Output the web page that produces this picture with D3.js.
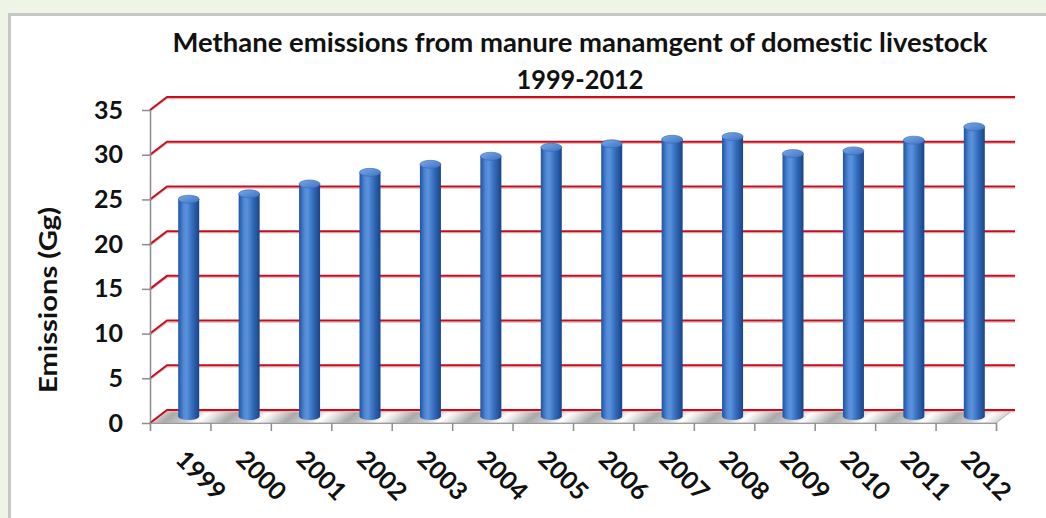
<!DOCTYPE html>
<html><head><meta charset="utf-8">
<script src="https://cdn.jsdelivr.net/npm/d3@7"></script>
<style>
html,body{margin:0;padding:0;background:#eef5e6;}
svg{display:block;}
text{font-family:Lato,"Open Sans",sans-serif;font-weight:700;fill:#111;font-variant-ligatures:none;font-feature-settings:"liga" 0;}
</style></head>
<body><svg id="c" width="1046" height="518"></svg>
<script>
const years = ["1999","2000","2001","2002","2003","2004","2005","2006","2007","2008","2009","2010","2011","2012"];
const emissions = [24.3, 24.9, 26.0, 27.3, 28.2, 29.1, 30.1, 30.5, 31.0, 31.3, 29.4, 29.7, 30.9, 32.4];
const yTicks = [0, 5, 10, 15, 20, 25, 30, 35];
const titleLines = ["Methane emissions from manure manamgent of domestic livestock", "1999-2012"];
const yLabel = "Emissions (Gg)";

const svg = d3.select("#c");
const DX = 17, DY = -13;

// panel
svg.append("rect").attr("x", 9.5).attr("y", 14.5).attr("width", 1100).attr("height", 600)
  .attr("fill", "#fff").attr("stroke", "#c6c6c6").attr("stroke-width", 3);

const x = d3.scaleBand().domain(years).range([150, 996]).padding(0);
const bw = x.bandwidth();
const y = d3.scaleLinear().domain([0, 35]).range([423, 110]);
const xb = d3.scaleLinear().domain([0, years.length]).range([150, 996]);

const defs = svg.append("defs");
const fg = defs.append("linearGradient").attr("id", "floorG")
  .attr("gradientUnits", "userSpaceOnUse").attr("spreadMethod", "repeat")
  .attr("x1", 150 + bw * 0.55).attr("y1", 423).attr("x2", 150 + bw * 1.55).attr("y2", 423)
  .attr("gradientTransform", "skewX(-50)");
[["0%","#a9a9a9"],["35%","#cfcfcf"],["55%","#ffffff"],["70%","#e6e6e6"],["100%","#a9a9a9"]]
  .forEach(s => fg.append("stop").attr("offset", s[0]).attr("stop-color", s[1]));

const bg = defs.append("linearGradient").attr("id", "barG").attr("x1", "0").attr("x2", "1").attr("y1", "0").attr("y2", "0");
[["0%","#21529f"],["25%","#4f88d6"],["40%","#5a92dc"],["70%","#3068b8"],["100%","#1a4386"]]
  .forEach(s => bg.append("stop").attr("offset", s[0]).attr("stop-color", s[1]));
const tg = defs.append("linearGradient").attr("id", "topG").attr("x1", "0").attr("x2", "1").attr("y1", "0").attr("y2", "1");
[["0%","#7aa8e6"],["100%","#3d74c4"]]
  .forEach(s => tg.append("stop").attr("offset", s[0]).attr("stop-color", s[1]));

// floor
const y0 = y(0);
svg.append("path")
  .attr("d", `M${xb(0)},${y0}L${xb(years.length)},${y0}L${xb(years.length)+DX},${y0+DY}L${xb(0)+DX},${y0+DY}Z`)
  .attr("fill", "url(#floorG)").attr("stroke", "#b0b0b0").attr("stroke-width", 1);

// gridlines (side wall diagonal + back wall)
const grid = svg.append("g");
yTicks.forEach(t => {
  const yy = y(t);
  grid.append("path")
    .attr("d", `M${xb(0)},${yy+1.6}L${xb(0)+DX},${yy+DY+1.6}L${xb(years.length)+DX+2},${yy+DY+1.6}`)
    .attr("fill", "none").attr("stroke", "#eeb5bb").attr("stroke-width", 1.2);
  grid.append("path")
    .attr("d", `M${xb(0)},${yy}L${xb(0)+DX},${yy+DY}L${xb(years.length)+DX+2},${yy+DY}`)
    .attr("fill", "none").attr("stroke", "#c0101e").attr("stroke-width", 2);
});

// y axis
const ya = svg.append("g").attr("transform", "translate(150,0)")
  .call(d3.axisLeft(y).tickValues(yTicks).tickSize(8).tickPadding(19).tickSizeOuter(0));
ya.select(".domain").attr("stroke", "#8c8c8c").attr("stroke-width", 1.5);
ya.selectAll(".tick line").attr("stroke", "#8c8c8c").attr("stroke-width", 1.5);
ya.selectAll(".tick text").style("font-family", "Lato, sans-serif").style("font-weight", "700")
  .style("font-size", "25px").attr("fill", "#111");

// x axis (front floor edge, ticks at category boundaries)
const xa = svg.append("g").attr("transform", `translate(0,${y0})`)
  .call(d3.axisBottom(xb).tickValues(d3.range(0, years.length + 1)).tickSize(8).tickFormat(""));
xa.select(".domain").attr("stroke", "#9a9a9a").attr("stroke-width", 1.2);
xa.selectAll(".tick line").attr("stroke", "#8c8c8c").attr("stroke-width", 1.5);

// bars (cylinders at mid depth)
const bars = svg.append("g").selectAll("g").data(years.map((yr, i) => ({yr, v: emissions[i]}))).join("g")
  .attr("transform", d => `translate(${x(d.yr) + bw / 2 + DX / 2},${DY / 2})`);
const R = 10.5;
bars.append("ellipse").attr("cx", 0).attr("cy", y0).attr("rx", R).attr("ry", 3.5).attr("fill", "url(#barG)");
bars.append("rect").attr("x", -R).attr("width", 2 * R).attr("y", d => y(d.v)).attr("height", d => y0 - y(d.v))
  .attr("fill", "url(#barG)");
bars.append("ellipse").attr("cx", 0).attr("cy", d => y(d.v)).attr("rx", R).attr("ry", 4)
  .attr("fill", "url(#topG)").attr("stroke", "#3567b5").attr("stroke-width", 0.6);

// x labels
svg.append("g").selectAll("text").data(years).join("text")
  .attr("transform", d => `translate(${x(d) + bw / 2 - 6},461) rotate(45)`)
  .attr("text-anchor", "start").style("font-size", "25px").text(d => d);

// title
svg.append("text").attr("x", 580).attr("y", 52).attr("text-anchor", "middle")
  .attr("textLength", 815).attr("lengthAdjust", "spacingAndGlyphs")
  .style("font-size", "27px").text(titleLines[0]);
svg.append("text").attr("x", 580).attr("y", 89).attr("text-anchor", "middle")
  .attr("textLength", 127).attr("lengthAdjust", "spacingAndGlyphs")
  .style("font-size", "27px").text(titleLines[1]);

// y label
svg.append("text").attr("transform", "translate(57,300) rotate(-90)").attr("text-anchor", "middle")
  .attr("textLength", 186).attr("lengthAdjust", "spacingAndGlyphs")
  .style("font-size", "25px").text(yLabel);
</script></body></html>
